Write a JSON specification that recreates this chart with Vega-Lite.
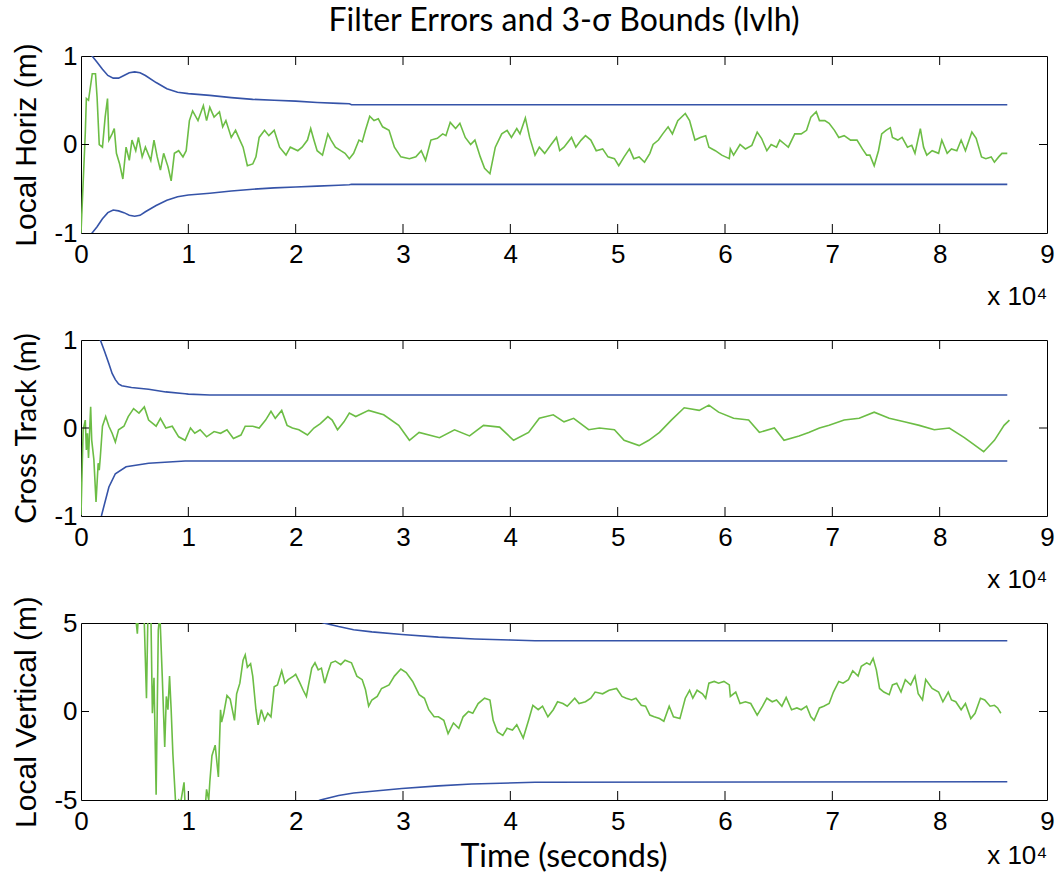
{
  "$schema": "https://vega.github.io/schema/vega-lite/v6.json",
  "padding": {"left": 11, "top": 4, "right": 2, "bottom": 2},
  "bounds": "flush",
  "spacing": 107,
  "config": {
    "view": {"stroke": "#000", "strokeWidth": 1},
    "axis": {"grid": false, "domain": false, "ticks": false, "tickSize": 0, "labelFont": "Liberation Sans", "labelFontSize": 26, "labelColor": "#000", "titleColor": "#000", "titleFontWeight": "normal", "titleFont": "Liberation Sans", "titleFontSize": 30, "labelFlush": false, "labelOverlap": false}
  },
  "datasets": {
    "xticks": [{"t": 10000}, {"t": 20000}, {"t": 30000}, {"t": 40000}, {"t": 50000}, {"t": 60000}, {"t": 70000}, {"t": 80000}],
    "yticks": [{"v": 0}],
    "h_bnd": [
      {"t": 900, "v": 1.02, "s": "u"}, {"t": 1500, "v": 0.93, "s": "u"}, {"t": 2000, "v": 0.85, "s": "u"}, {"t": 2500, "v": 0.78, "s": "u"}, {"t": 3000, "v": 0.75, "s": "u"}, {"t": 3500, "v": 0.75, "s": "u"}, {"t": 4000, "v": 0.78, "s": "u"}, {"t": 4500, "v": 0.81, "s": "u"}, {"t": 5000, "v": 0.82, "s": "u"}, {"t": 5500, "v": 0.81, "s": "u"}, {"t": 6000, "v": 0.78, "s": "u"}, {"t": 7000, "v": 0.7, "s": "u"}, {"t": 8000, "v": 0.63, "s": "u"}, {"t": 9000, "v": 0.59, "s": "u"}, {"t": 10000, "v": 0.575, "s": "u"}, {"t": 12000, "v": 0.555, "s": "u"}, {"t": 14000, "v": 0.53, "s": "u"}, {"t": 16000, "v": 0.51, "s": "u"}, {"t": 18000, "v": 0.5, "s": "u"}, {"t": 20000, "v": 0.49, "s": "u"}, {"t": 22000, "v": 0.475, "s": "u"}, {"t": 24000, "v": 0.465, "s": "u"}, {"t": 25000, "v": 0.46, "s": "u"}, {"t": 25200, "v": 0.45, "s": "u"}, {"t": 86300, "v": 0.45, "s": "u"},
      {"t": 900, "v": -1.02, "s": "l"}, {"t": 1500, "v": -0.93, "s": "l"}, {"t": 2000, "v": -0.84, "s": "l"}, {"t": 2500, "v": -0.77, "s": "l"}, {"t": 3000, "v": -0.74, "s": "l"}, {"t": 3500, "v": -0.75, "s": "l"}, {"t": 4000, "v": -0.77, "s": "l"}, {"t": 4500, "v": -0.8, "s": "l"}, {"t": 5000, "v": -0.81, "s": "l"}, {"t": 5500, "v": -0.8, "s": "l"}, {"t": 6000, "v": -0.76, "s": "l"}, {"t": 7000, "v": -0.69, "s": "l"}, {"t": 8000, "v": -0.63, "s": "l"}, {"t": 9000, "v": -0.59, "s": "l"}, {"t": 10000, "v": -0.57, "s": "l"}, {"t": 12000, "v": -0.55, "s": "l"}, {"t": 14000, "v": -0.525, "s": "l"}, {"t": 16000, "v": -0.505, "s": "l"}, {"t": 18000, "v": -0.49, "s": "l"}, {"t": 20000, "v": -0.48, "s": "l"}, {"t": 22000, "v": -0.47, "s": "l"}, {"t": 24000, "v": -0.46, "s": "l"}, {"t": 25000, "v": -0.455, "s": "l"}, {"t": 25200, "v": -0.45, "s": "l"}, {"t": 86300, "v": -0.45, "s": "l"}
    ],
    "h_err": [
      {"t": 0, "v": -1.0}, {"t": 400, "v": 0.13}, {"t": 500, "v": 0.52}, {"t": 700, "v": 0.5}, {"t": 1050, "v": 0.8}, {"t": 1350, "v": 0.8}, {"t": 1500, "v": 0.53}, {"t": 1700, "v": 0.0}, {"t": 2000, "v": -0.03}, {"t": 2250, "v": 0.31}, {"t": 2470, "v": 0.52}, {"t": 2600, "v": 0.05}, {"t": 2900, "v": 0.12}, {"t": 3100, "v": 0.18}, {"t": 3300, "v": -0.1}, {"t": 3600, "v": -0.22}, {"t": 3900, "v": -0.39}, {"t": 4200, "v": -0.03}, {"t": 4500, "v": -0.18}, {"t": 4750, "v": 0.05}, {"t": 5100, "v": -0.07}, {"t": 5350, "v": 0.08}, {"t": 5700, "v": -0.14}, {"t": 6000, "v": -0.03}, {"t": 6500, "v": -0.18}, {"t": 6800, "v": 0.05}, {"t": 7100, "v": -0.14}, {"t": 7400, "v": -0.29}, {"t": 7700, "v": -0.1}, {"t": 8100, "v": -0.25}, {"t": 8400, "v": -0.41}, {"t": 8700, "v": -0.1}, {"t": 9100, "v": -0.07}, {"t": 9500, "v": -0.14}, {"t": 9800, "v": -0.07}, {"t": 10100, "v": 0.27}, {"t": 10400, "v": 0.38}, {"t": 10900, "v": 0.27}, {"t": 11400, "v": 0.44}, {"t": 11700, "v": 0.27}, {"t": 12000, "v": 0.42}, {"t": 12400, "v": 0.31}, {"t": 12900, "v": 0.37}, {"t": 13200, "v": 0.2}, {"t": 13500, "v": 0.27}, {"t": 14000, "v": 0.08}, {"t": 14400, "v": 0.16}, {"t": 14800, "v": 0.05}, {"t": 15100, "v": -0.03}, {"t": 15500, "v": -0.24}, {"t": 16000, "v": -0.22}, {"t": 16300, "v": -0.14}, {"t": 16600, "v": 0.08}, {"t": 17100, "v": 0.16}, {"t": 17500, "v": 0.1}, {"t": 18000, "v": 0.16}, {"t": 18500, "v": -0.03}, {"t": 19100, "v": -0.12}, {"t": 19500, "v": -0.03}, {"t": 20200, "v": -0.07}, {"t": 20600, "v": -0.03}, {"t": 21100, "v": 0.05}, {"t": 21400, "v": 0.18}, {"t": 21700, "v": 0.05}, {"t": 22000, "v": -0.07}, {"t": 22500, "v": -0.12}, {"t": 23000, "v": 0.12}, {"t": 23300, "v": 0.05}, {"t": 23700, "v": -0.03}, {"t": 24200, "v": -0.07}, {"t": 24600, "v": -0.1}, {"t": 25000, "v": -0.16}, {"t": 25400, "v": -0.1}, {"t": 25900, "v": 0.05}, {"t": 26200, "v": 0.03}, {"t": 26500, "v": 0.16}, {"t": 26900, "v": 0.32}, {"t": 27300, "v": 0.27}, {"t": 27700, "v": 0.29}, {"t": 28100, "v": 0.2}, {"t": 28700, "v": 0.16}, {"t": 29200, "v": -0.03}, {"t": 29800, "v": -0.14}, {"t": 30600, "v": -0.16}, {"t": 31200, "v": -0.14}, {"t": 31700, "v": -0.07}, {"t": 32100, "v": -0.18}, {"t": 32600, "v": 0.05}, {"t": 33200, "v": 0.07}, {"t": 33700, "v": 0.12}, {"t": 34000, "v": 0.1}, {"t": 34400, "v": 0.25}, {"t": 34900, "v": 0.18}, {"t": 35300, "v": 0.24}, {"t": 35800, "v": 0.08}, {"t": 36300, "v": 0.0}, {"t": 36700, "v": 0.05}, {"t": 37200, "v": -0.14}, {"t": 37600, "v": -0.27}, {"t": 38100, "v": -0.33}, {"t": 38600, "v": -0.03}, {"t": 39200, "v": 0.12}, {"t": 39700, "v": 0.16}, {"t": 40100, "v": 0.08}, {"t": 40600, "v": 0.18}, {"t": 40900, "v": 0.12}, {"t": 41400, "v": 0.3}, {"t": 41800, "v": 0.08}, {"t": 42300, "v": -0.12}, {"t": 42700, "v": -0.03}, {"t": 43200, "v": -0.1}, {"t": 43800, "v": 0.0}, {"t": 44300, "v": 0.08}, {"t": 44600, "v": -0.07}, {"t": 45000, "v": -0.03}, {"t": 45700, "v": 0.08}, {"t": 46100, "v": -0.03}, {"t": 46600, "v": 0.05}, {"t": 47000, "v": 0.1}, {"t": 47500, "v": 0.05}, {"t": 48000, "v": -0.07}, {"t": 48600, "v": -0.05}, {"t": 49100, "v": -0.14}, {"t": 49700, "v": -0.16}, {"t": 50100, "v": -0.24}, {"t": 50600, "v": -0.14}, {"t": 51100, "v": -0.05}, {"t": 51500, "v": -0.16}, {"t": 52000, "v": -0.14}, {"t": 52500, "v": -0.2}, {"t": 53000, "v": -0.1}, {"t": 53300, "v": 0.0}, {"t": 53800, "v": 0.05}, {"t": 54200, "v": 0.12}, {"t": 54700, "v": 0.2}, {"t": 55100, "v": 0.12}, {"t": 55600, "v": 0.27}, {"t": 56300, "v": 0.35}, {"t": 56700, "v": 0.27}, {"t": 57200, "v": 0.05}, {"t": 57700, "v": 0.08}, {"t": 58200, "v": 0.1}, {"t": 58500, "v": -0.03}, {"t": 59100, "v": -0.07}, {"t": 59700, "v": -0.12}, {"t": 60400, "v": -0.16}, {"t": 60500, "v": -0.05}, {"t": 60800, "v": -0.12}, {"t": 61400, "v": 0.0}, {"t": 61900, "v": -0.05}, {"t": 62500, "v": -0.01}, {"t": 63000, "v": 0.14}, {"t": 63400, "v": 0.07}, {"t": 63900, "v": -0.07}, {"t": 64300, "v": 0.0}, {"t": 64800, "v": -0.03}, {"t": 65100, "v": 0.05}, {"t": 65600, "v": 0.0}, {"t": 65900, "v": -0.03}, {"t": 66500, "v": 0.12}, {"t": 67100, "v": 0.12}, {"t": 67600, "v": 0.16}, {"t": 68000, "v": 0.31}, {"t": 68500, "v": 0.37}, {"t": 68800, "v": 0.27}, {"t": 69300, "v": 0.27}, {"t": 69700, "v": 0.24}, {"t": 70200, "v": 0.16}, {"t": 70600, "v": 0.08}, {"t": 71100, "v": 0.1}, {"t": 71700, "v": 0.05}, {"t": 72300, "v": 0.05}, {"t": 72800, "v": -0.05}, {"t": 73200, "v": -0.12}, {"t": 73500, "v": -0.12}, {"t": 73900, "v": -0.24}, {"t": 74300, "v": -0.07}, {"t": 74600, "v": 0.12}, {"t": 75000, "v": 0.16}, {"t": 75400, "v": 0.19}, {"t": 75600, "v": 0.08}, {"t": 76100, "v": 0.05}, {"t": 76500, "v": 0.08}, {"t": 77000, "v": -0.03}, {"t": 77400, "v": -0.01}, {"t": 77700, "v": -0.1}, {"t": 78200, "v": 0.18}, {"t": 78500, "v": -0.03}, {"t": 78800, "v": -0.12}, {"t": 79300, "v": -0.07}, {"t": 79900, "v": -0.1}, {"t": 80200, "v": 0.05}, {"t": 80700, "v": -0.1}, {"t": 81100, "v": -0.05}, {"t": 81600, "v": -0.07}, {"t": 82000, "v": 0.05}, {"t": 82400, "v": -0.07}, {"t": 83000, "v": 0.14}, {"t": 83400, "v": 0.07}, {"t": 83900, "v": -0.14}, {"t": 84300, "v": -0.16}, {"t": 84800, "v": -0.14}, {"t": 85100, "v": -0.2}, {"t": 85500, "v": -0.14}, {"t": 85800, "v": -0.1}, {"t": 86300, "v": -0.1}
    ],
    "c_bnd": [
      {"t": 1700, "v": 1.03, "s": "u"}, {"t": 1800, "v": 1.0, "s": "u"}, {"t": 2200, "v": 0.87, "s": "u"}, {"t": 2600, "v": 0.73, "s": "u"}, {"t": 2900, "v": 0.62, "s": "u"}, {"t": 3200, "v": 0.55, "s": "u"}, {"t": 3500, "v": 0.5, "s": "u"}, {"t": 3800, "v": 0.48, "s": "u"}, {"t": 4700, "v": 0.46, "s": "u"}, {"t": 6300, "v": 0.44, "s": "u"}, {"t": 7900, "v": 0.41, "s": "u"}, {"t": 9700, "v": 0.39, "s": "u"}, {"t": 10000, "v": 0.385, "s": "u"}, {"t": 12000, "v": 0.375, "s": "u"}, {"t": 86300, "v": 0.375, "s": "u"},
      {"t": 1800, "v": -1.03, "s": "l"}, {"t": 1900, "v": -1.0, "s": "l"}, {"t": 2600, "v": -0.67, "s": "l"}, {"t": 3200, "v": -0.52, "s": "l"}, {"t": 4200, "v": -0.44, "s": "l"}, {"t": 6300, "v": -0.4, "s": "l"}, {"t": 9700, "v": -0.375, "s": "l"}, {"t": 12000, "v": -0.375, "s": "l"}, {"t": 86300, "v": -0.375, "s": "l"}
    ],
    "c_err": [
      {"t": 0, "v": -0.99}, {"t": 200, "v": -0.02}, {"t": 400, "v": 0.09}, {"t": 500, "v": -0.25}, {"t": 600, "v": -0.06}, {"t": 700, "v": -0.34}, {"t": 900, "v": 0.24}, {"t": 1000, "v": -0.14}, {"t": 1200, "v": -0.36}, {"t": 1400, "v": -0.84}, {"t": 1600, "v": -0.4}, {"t": 1700, "v": -0.48}, {"t": 1800, "v": -0.33}, {"t": 2000, "v": 0.02}, {"t": 2300, "v": 0.13}, {"t": 2600, "v": 0.02}, {"t": 2900, "v": -0.06}, {"t": 3200, "v": -0.16}, {"t": 3500, "v": -0.02}, {"t": 4000, "v": 0.02}, {"t": 4400, "v": 0.13}, {"t": 4900, "v": 0.22}, {"t": 5400, "v": 0.17}, {"t": 5900, "v": 0.24}, {"t": 6300, "v": 0.09}, {"t": 7000, "v": 0.02}, {"t": 7400, "v": 0.11}, {"t": 7900, "v": 0.0}, {"t": 8500, "v": 0.02}, {"t": 9100, "v": -0.1}, {"t": 9700, "v": -0.14}, {"t": 10200, "v": 0.0}, {"t": 10600, "v": -0.06}, {"t": 11100, "v": -0.02}, {"t": 11700, "v": -0.1}, {"t": 12400, "v": -0.04}, {"t": 13000, "v": -0.06}, {"t": 13600, "v": -0.02}, {"t": 14200, "v": -0.12}, {"t": 14900, "v": -0.08}, {"t": 15300, "v": 0.02}, {"t": 16000, "v": 0.02}, {"t": 16600, "v": 0.0}, {"t": 17200, "v": 0.09}, {"t": 17700, "v": 0.19}, {"t": 18100, "v": 0.11}, {"t": 18700, "v": 0.2}, {"t": 19200, "v": 0.03}, {"t": 19700, "v": 0.0}, {"t": 20300, "v": -0.02}, {"t": 21100, "v": -0.08}, {"t": 21700, "v": 0.0}, {"t": 22300, "v": 0.05}, {"t": 23000, "v": 0.13}, {"t": 23400, "v": 0.09}, {"t": 23900, "v": -0.02}, {"t": 24500, "v": 0.07}, {"t": 25000, "v": 0.17}, {"t": 25600, "v": 0.13}, {"t": 26800, "v": 0.2}, {"t": 28200, "v": 0.15}, {"t": 29600, "v": 0.03}, {"t": 30600, "v": -0.14}, {"t": 31500, "v": -0.05}, {"t": 33400, "v": -0.11}, {"t": 34800, "v": -0.02}, {"t": 36200, "v": -0.09}, {"t": 37500, "v": 0.03}, {"t": 39000, "v": 0.01}, {"t": 40300, "v": -0.14}, {"t": 41700, "v": -0.05}, {"t": 42700, "v": 0.11}, {"t": 44000, "v": 0.15}, {"t": 45000, "v": 0.07}, {"t": 45900, "v": 0.11}, {"t": 47300, "v": -0.02}, {"t": 48300, "v": 0.0}, {"t": 49700, "v": -0.02}, {"t": 50600, "v": -0.14}, {"t": 52000, "v": -0.2}, {"t": 52900, "v": -0.14}, {"t": 53900, "v": -0.05}, {"t": 55000, "v": 0.09}, {"t": 56200, "v": 0.23}, {"t": 57600, "v": 0.2}, {"t": 58500, "v": 0.26}, {"t": 59400, "v": 0.18}, {"t": 60800, "v": 0.11}, {"t": 62200, "v": 0.09}, {"t": 63200, "v": -0.05}, {"t": 64600, "v": 0.0}, {"t": 65500, "v": -0.14}, {"t": 66900, "v": -0.09}, {"t": 67800, "v": -0.05}, {"t": 68800, "v": 0.0}, {"t": 69700, "v": 0.03}, {"t": 71100, "v": 0.09}, {"t": 72500, "v": 0.11}, {"t": 73900, "v": 0.18}, {"t": 75300, "v": 0.11}, {"t": 76700, "v": 0.07}, {"t": 78100, "v": 0.03}, {"t": 79500, "v": -0.02}, {"t": 80900, "v": 0.0}, {"t": 82300, "v": -0.11}, {"t": 83200, "v": -0.19}, {"t": 84100, "v": -0.27}, {"t": 85100, "v": -0.14}, {"t": 86000, "v": 0.03}, {"t": 86500, "v": 0.09}
    ],
    "v_bnd": [
      {"t": 20000, "v": 5.6, "s": "u"}, {"t": 22600, "v": 5.0, "s": "u"}, {"t": 24000, "v": 4.8, "s": "u"}, {"t": 25400, "v": 4.62, "s": "u"}, {"t": 27100, "v": 4.5, "s": "u"}, {"t": 29900, "v": 4.35, "s": "u"}, {"t": 33300, "v": 4.2, "s": "u"}, {"t": 36700, "v": 4.1, "s": "u"}, {"t": 40000, "v": 4.04, "s": "u"}, {"t": 42300, "v": 4.0, "s": "u"}, {"t": 86300, "v": 4.0, "s": "u"},
      {"t": 20000, "v": -5.6, "s": "l"}, {"t": 22300, "v": -5.0, "s": "l"}, {"t": 24000, "v": -4.75, "s": "l"}, {"t": 25400, "v": -4.6, "s": "l"}, {"t": 29900, "v": -4.35, "s": "l"}, {"t": 33300, "v": -4.2, "s": "l"}, {"t": 36400, "v": -4.1, "s": "l"}, {"t": 42300, "v": -4.0, "s": "l"}, {"t": 86300, "v": -3.97, "s": "l"}
    ],
    "v_err": [
      {"t": 5000, "v": 7}, {"t": 5150, "v": 5.0}, {"t": 5250, "v": 4.4}, {"t": 5400, "v": 6}, {"t": 5850, "v": 6}, {"t": 6100, "v": 0.75}, {"t": 6250, "v": 6}, {"t": 6500, "v": 6}, {"t": 6650, "v": -0.1}, {"t": 6800, "v": 1.9}, {"t": 7000, "v": -4.7}, {"t": 7200, "v": 4.6}, {"t": 7350, "v": 5.5}, {"t": 7570, "v": 2.0}, {"t": 7800, "v": -2.0}, {"t": 7950, "v": 0.85}, {"t": 8100, "v": 0.1}, {"t": 8250, "v": 2.0}, {"t": 8400, "v": 0.1}, {"t": 8560, "v": -2.4}, {"t": 8800, "v": -5.0}, {"t": 9000, "v": -5.5}, {"t": 9100, "v": -5.0}, {"t": 9300, "v": -5.1}, {"t": 9600, "v": -4.0}, {"t": 9700, "v": -5.3}, {"t": 11000, "v": -6}, {"t": 11600, "v": -5.2}, {"t": 11700, "v": -4.4}, {"t": 11900, "v": -5.0}, {"t": 12000, "v": -4.0}, {"t": 12200, "v": -2.5}, {"t": 12500, "v": -1.9}, {"t": 12700, "v": -3.1}, {"t": 12800, "v": -3.7}, {"t": 13000, "v": 0.1}, {"t": 13100, "v": -0.6}, {"t": 13300, "v": -0.1}, {"t": 13600, "v": 0.9}, {"t": 13900, "v": 0.7}, {"t": 14300, "v": -0.5}, {"t": 14500, "v": 1.0}, {"t": 14800, "v": 1.6}, {"t": 15100, "v": 2.9}, {"t": 15300, "v": 3.2}, {"t": 15500, "v": 2.5}, {"t": 15800, "v": 2.7}, {"t": 16000, "v": 2.0}, {"t": 16300, "v": 0.1}, {"t": 16500, "v": -0.75}, {"t": 16800, "v": 0.1}, {"t": 17100, "v": -0.5}, {"t": 17400, "v": -0.1}, {"t": 17700, "v": -0.3}, {"t": 18000, "v": 1.4}, {"t": 18300, "v": 1.5}, {"t": 18700, "v": 2.3}, {"t": 19000, "v": 1.6}, {"t": 19300, "v": 1.8}, {"t": 19800, "v": 2.0}, {"t": 20000, "v": 2.1}, {"t": 20400, "v": 1.6}, {"t": 20700, "v": 1.2}, {"t": 21000, "v": 0.85}, {"t": 21200, "v": 1.5}, {"t": 21500, "v": 2.45}, {"t": 21800, "v": 2.75}, {"t": 22100, "v": 2.35}, {"t": 22400, "v": 2.45}, {"t": 22700, "v": 1.6}, {"t": 23000, "v": 2.2}, {"t": 23300, "v": 2.75}, {"t": 23700, "v": 2.85}, {"t": 24200, "v": 2.65}, {"t": 24600, "v": 2.9}, {"t": 25200, "v": 2.75}, {"t": 25700, "v": 2.0}, {"t": 26200, "v": 1.8}, {"t": 26500, "v": 1.25}, {"t": 26800, "v": 0.3}, {"t": 27100, "v": 0.65}, {"t": 27600, "v": 0.85}, {"t": 28000, "v": 1.3}, {"t": 28700, "v": 1.5}, {"t": 29200, "v": 2.0}, {"t": 29800, "v": 2.4}, {"t": 30300, "v": 2.2}, {"t": 30900, "v": 1.7}, {"t": 31500, "v": 0.95}, {"t": 32000, "v": 0.75}, {"t": 32400, "v": 0.1}, {"t": 32900, "v": -0.3}, {"t": 33300, "v": -0.3}, {"t": 33800, "v": -0.5}, {"t": 34200, "v": -1.25}, {"t": 34700, "v": -0.65}, {"t": 35200, "v": -0.95}, {"t": 35600, "v": -0.3}, {"t": 36100, "v": 0.0}, {"t": 36500, "v": -0.1}, {"t": 37000, "v": 0.45}, {"t": 37600, "v": 0.75}, {"t": 38100, "v": 0.65}, {"t": 38400, "v": -0.5}, {"t": 38800, "v": -1.15}, {"t": 39300, "v": -1.35}, {"t": 39700, "v": -0.95}, {"t": 40200, "v": -1.05}, {"t": 40600, "v": -0.75}, {"t": 41200, "v": -1.5}, {"t": 41700, "v": -0.5}, {"t": 42100, "v": 0.35}, {"t": 42600, "v": 0.1}, {"t": 43000, "v": 0.3}, {"t": 43500, "v": -0.3}, {"t": 44000, "v": 0.1}, {"t": 44400, "v": 0.55}, {"t": 44900, "v": 0.45}, {"t": 45300, "v": 0.3}, {"t": 46000, "v": 0.75}, {"t": 46400, "v": 0.45}, {"t": 47000, "v": 0.55}, {"t": 47500, "v": 0.75}, {"t": 47900, "v": 1.1}, {"t": 48600, "v": 1.0}, {"t": 49200, "v": 1.2}, {"t": 49900, "v": 1.3}, {"t": 50400, "v": 0.85}, {"t": 50800, "v": 0.75}, {"t": 51300, "v": 0.65}, {"t": 51700, "v": 0.75}, {"t": 52200, "v": 0.35}, {"t": 52600, "v": 0.3}, {"t": 53000, "v": -0.2}, {"t": 53400, "v": -0.3}, {"t": 53900, "v": -0.4}, {"t": 54300, "v": -0.55}, {"t": 54800, "v": 0.3}, {"t": 55200, "v": -0.3}, {"t": 55800, "v": -0.4}, {"t": 56300, "v": 0.75}, {"t": 56700, "v": 1.2}, {"t": 57000, "v": 0.75}, {"t": 57400, "v": 1.2}, {"t": 57900, "v": 1.0}, {"t": 58200, "v": 0.75}, {"t": 58500, "v": 1.6}, {"t": 59000, "v": 1.7}, {"t": 59400, "v": 1.6}, {"t": 59900, "v": 1.7}, {"t": 60400, "v": 1.5}, {"t": 60500, "v": 0.85}, {"t": 61000, "v": 1.1}, {"t": 61400, "v": 0.45}, {"t": 61900, "v": 0.55}, {"t": 62400, "v": 0.45}, {"t": 63000, "v": -0.2}, {"t": 63500, "v": 0.3}, {"t": 63900, "v": 0.75}, {"t": 64400, "v": 0.55}, {"t": 64800, "v": 0.65}, {"t": 65300, "v": 0.3}, {"t": 65700, "v": 0.8}, {"t": 66200, "v": 0.1}, {"t": 66700, "v": 0.2}, {"t": 67100, "v": 0.1}, {"t": 67600, "v": 0.3}, {"t": 68000, "v": -0.3}, {"t": 68300, "v": -0.5}, {"t": 68800, "v": 0.2}, {"t": 69200, "v": 0.3}, {"t": 69700, "v": 0.45}, {"t": 70100, "v": 1.1}, {"t": 70600, "v": 1.7}, {"t": 71000, "v": 1.6}, {"t": 71500, "v": 1.8}, {"t": 71900, "v": 2.3}, {"t": 72400, "v": 2.0}, {"t": 72700, "v": 2.55}, {"t": 73200, "v": 2.75}, {"t": 73500, "v": 2.65}, {"t": 73800, "v": 3.0}, {"t": 74100, "v": 2.35}, {"t": 74400, "v": 1.3}, {"t": 74800, "v": 1.1}, {"t": 75300, "v": 0.95}, {"t": 75600, "v": 1.5}, {"t": 76000, "v": 1.6}, {"t": 76400, "v": 1.1}, {"t": 76800, "v": 1.8}, {"t": 77300, "v": 1.5}, {"t": 77700, "v": 2.0}, {"t": 78000, "v": 1.0}, {"t": 78400, "v": 0.65}, {"t": 78700, "v": 1.8}, {"t": 79300, "v": 1.3}, {"t": 79900, "v": 1.1}, {"t": 80300, "v": 0.55}, {"t": 80800, "v": 1.1}, {"t": 81100, "v": 0.65}, {"t": 81500, "v": 0.55}, {"t": 82000, "v": 0.1}, {"t": 82400, "v": 0.45}, {"t": 82900, "v": -0.4}, {"t": 83300, "v": -0.1}, {"t": 83800, "v": 0.75}, {"t": 84200, "v": 0.65}, {"t": 84700, "v": 0.3}, {"t": 85100, "v": 0.35}, {"t": 85400, "v": 0.2}, {"t": 85700, "v": -0.1}
    ]
  },
  "vconcat": [
    {
      "width": 966, "height": 177,
      "title": {"text": "Filter Errors and 3-σ Bounds (lvlh)", "font": "Lato", "fontSize": 32, "fontWeight": "normal", "color": "#000", "frame": "group", "anchor": "middle", "offset": 5},
      "layer": [
        {
          "data": {"name": "h_bnd"},
          "mark": {"type": "line", "color": "#3553a8", "strokeWidth": 1.6, "clip": true},
          "encoding": {
            "x": {"field": "t", "type": "quantitative", "scale": {"domain": [0, 90000], "nice": false}, "axis": {"orient": "bottom", "values": [0, 10000, 20000, 30000, 40000, 50000, 60000, 70000, 80000, 90000], "labelExpr": "datum.value / 10000", "labelPadding": 8, "title": "x 10⁴", "titleAnchor": "end", "titleFontSize": 26, "titlePadding": 16}},
            "y": {"field": "v", "type": "quantitative", "scale": {"domain": [-1, 1], "nice": false}, "axis": {"orient": "left", "values": [-1, 0, 1], "labelExpr": "datum.value", "labelPadding": 4, "title": "Local Horiz (m)", "titlePadding": 12}},
            "detail": {"field": "s"}
          }
        },
        {
          "data": {"name": "h_err"},
          "mark": {"type": "line", "color": "#6cbd45", "strokeWidth": 1.6, "clip": true},
          "encoding": {
            "x": {"field": "t", "type": "quantitative", "scale": {"domain": [0, 90000], "nice": false}, "axis": {"orient": "bottom", "values": [0, 10000, 20000, 30000, 40000, 50000, 60000, 70000, 80000, 90000], "labelExpr": "datum.value / 10000", "labelPadding": 8, "title": "x 10⁴", "titleAnchor": "end", "titleFontSize": 26, "titlePadding": 16}},
            "y": {"field": "v", "type": "quantitative", "scale": {"domain": [-1, 1], "nice": false}, "axis": {"orient": "left", "values": [-1, 0, 1], "labelExpr": "datum.value", "labelPadding": 4, "title": "Local Horiz (m)", "titlePadding": 12}}
          }
        },
        {
          "data": {"name": "xticks"},
          "mark": {"type": "tick", "orient": "vertical", "color": "#000", "opacity": 1, "thickness": 1, "size": 18, "clip": true},
          "encoding": {
            "x": {"field": "t", "type": "quantitative", "scale": {"domain": [0, 90000], "nice": false}, "axis": {"orient": "bottom", "values": [0, 10000, 20000, 30000, 40000, 50000, 60000, 70000, 80000, 90000], "labelExpr": "datum.value / 10000", "labelPadding": 8, "title": "x 10⁴", "titleAnchor": "end", "titleFontSize": 26, "titlePadding": 16}},
            "y": {"datum": -1}
          }
        },
        {
          "data": {"name": "xticks"},
          "mark": {"type": "tick", "orient": "vertical", "color": "#000", "opacity": 1, "thickness": 1, "size": 18, "clip": true},
          "encoding": {
            "x": {"field": "t", "type": "quantitative", "scale": {"domain": [0, 90000], "nice": false}, "axis": {"orient": "bottom", "values": [0, 10000, 20000, 30000, 40000, 50000, 60000, 70000, 80000, 90000], "labelExpr": "datum.value / 10000", "labelPadding": 8, "title": "x 10⁴", "titleAnchor": "end", "titleFontSize": 26, "titlePadding": 16}},
            "y": {"datum": 1}
          }
        },
        {
          "data": {"name": "yticks"},
          "mark": {"type": "tick", "orient": "horizontal", "color": "#000", "opacity": 1, "thickness": 1, "size": 16, "clip": true},
          "encoding": {
            "y": {"field": "v", "type": "quantitative", "scale": {"domain": [-1, 1], "nice": false}, "axis": {"orient": "left", "values": [-1, 0, 1], "labelExpr": "datum.value", "labelPadding": 4, "title": "Local Horiz (m)", "titlePadding": 12}},
            "x": {"datum": 0}
          }
        },
        {
          "data": {"name": "yticks"},
          "mark": {"type": "tick", "orient": "horizontal", "color": "#000", "opacity": 1, "thickness": 1, "size": 16, "clip": true},
          "encoding": {
            "y": {"field": "v", "type": "quantitative", "scale": {"domain": [-1, 1], "nice": false}, "axis": {"orient": "left", "values": [-1, 0, 1], "labelExpr": "datum.value", "labelPadding": 4, "title": "Local Horiz (m)", "titlePadding": 12}},
            "x": {"datum": 90000}
          }
        }
      ]
    },
    {
      "width": 966, "height": 176,
      "layer": [
        {
          "data": {"name": "c_bnd"},
          "mark": {"type": "line", "color": "#3553a8", "strokeWidth": 1.6, "clip": true},
          "encoding": {
            "x": {"field": "t", "type": "quantitative", "scale": {"domain": [0, 90000], "nice": false}, "axis": {"orient": "bottom", "values": [0, 10000, 20000, 30000, 40000, 50000, 60000, 70000, 80000, 90000], "labelExpr": "datum.value / 10000", "labelPadding": 8, "title": "x 10⁴", "titleAnchor": "end", "titleFontSize": 26, "titlePadding": 16}},
            "y": {"field": "v", "type": "quantitative", "scale": {"domain": [-1, 1], "nice": false}, "axis": {"orient": "left", "values": [-1, 0, 1], "labelExpr": "datum.value", "labelPadding": 4, "title": "Cross Track (m)", "titleFont": "Lato", "titleFontSize": 29, "titlePadding": 12}},
            "detail": {"field": "s"}
          }
        },
        {
          "data": {"name": "c_err"},
          "mark": {"type": "line", "color": "#6cbd45", "strokeWidth": 1.6, "clip": true},
          "encoding": {
            "x": {"field": "t", "type": "quantitative", "scale": {"domain": [0, 90000], "nice": false}, "axis": {"orient": "bottom", "values": [0, 10000, 20000, 30000, 40000, 50000, 60000, 70000, 80000, 90000], "labelExpr": "datum.value / 10000", "labelPadding": 8, "title": "x 10⁴", "titleAnchor": "end", "titleFontSize": 26, "titlePadding": 16}},
            "y": {"field": "v", "type": "quantitative", "scale": {"domain": [-1, 1], "nice": false}, "axis": {"orient": "left", "values": [-1, 0, 1], "labelExpr": "datum.value", "labelPadding": 4, "title": "Cross Track (m)", "titleFont": "Lato", "titleFontSize": 29, "titlePadding": 12}}
          }
        },
        {
          "data": {"name": "xticks"},
          "mark": {"type": "tick", "orient": "vertical", "color": "#000", "opacity": 1, "thickness": 1, "size": 18, "clip": true},
          "encoding": {
            "x": {"field": "t", "type": "quantitative", "scale": {"domain": [0, 90000], "nice": false}, "axis": {"orient": "bottom", "values": [0, 10000, 20000, 30000, 40000, 50000, 60000, 70000, 80000, 90000], "labelExpr": "datum.value / 10000", "labelPadding": 8, "title": "x 10⁴", "titleAnchor": "end", "titleFontSize": 26, "titlePadding": 16}},
            "y": {"datum": -1}
          }
        },
        {
          "data": {"name": "xticks"},
          "mark": {"type": "tick", "orient": "vertical", "color": "#000", "opacity": 1, "thickness": 1, "size": 18, "clip": true},
          "encoding": {
            "x": {"field": "t", "type": "quantitative", "scale": {"domain": [0, 90000], "nice": false}, "axis": {"orient": "bottom", "values": [0, 10000, 20000, 30000, 40000, 50000, 60000, 70000, 80000, 90000], "labelExpr": "datum.value / 10000", "labelPadding": 8, "title": "x 10⁴", "titleAnchor": "end", "titleFontSize": 26, "titlePadding": 16}},
            "y": {"datum": 1}
          }
        },
        {
          "data": {"name": "yticks"},
          "mark": {"type": "tick", "orient": "horizontal", "color": "#000", "opacity": 1, "thickness": 1, "size": 16, "clip": true},
          "encoding": {
            "y": {"field": "v", "type": "quantitative", "scale": {"domain": [-1, 1], "nice": false}, "axis": {"orient": "left", "values": [-1, 0, 1], "labelExpr": "datum.value", "labelPadding": 4, "title": "Cross Track (m)", "titleFont": "Lato", "titleFontSize": 29, "titlePadding": 12}},
            "x": {"datum": 0}
          }
        },
        {
          "data": {"name": "yticks"},
          "mark": {"type": "tick", "orient": "horizontal", "color": "#000", "opacity": 1, "thickness": 1, "size": 16, "clip": true},
          "encoding": {
            "y": {"field": "v", "type": "quantitative", "scale": {"domain": [-1, 1], "nice": false}, "axis": {"orient": "left", "values": [-1, 0, 1], "labelExpr": "datum.value", "labelPadding": 4, "title": "Cross Track (m)", "titleFont": "Lato", "titleFontSize": 29, "titlePadding": 12}},
            "x": {"datum": 90000}
          }
        }
      ]
    },
    {
      "width": 966, "height": 177,
      "title": {"text": "Time (seconds)", "orient": "bottom", "font": "Lato", "fontSize": 32, "fontWeight": "normal", "color": "#000", "frame": "group", "anchor": "middle", "offset": -26},
      "layer": [
        {
          "data": {"name": "v_bnd"},
          "mark": {"type": "line", "color": "#3553a8", "strokeWidth": 1.6, "clip": true},
          "encoding": {
            "x": {"field": "t", "type": "quantitative", "scale": {"domain": [0, 90000], "nice": false}, "axis": {"orient": "bottom", "values": [0, 10000, 20000, 30000, 40000, 50000, 60000, 70000, 80000, 90000], "labelExpr": "datum.value / 10000", "labelPadding": 8, "title": "x 10⁴", "titleAnchor": "end", "titleFontSize": 26, "titlePadding": 8}},
            "y": {"field": "v", "type": "quantitative", "scale": {"domain": [-5, 5], "nice": false}, "axis": {"orient": "left", "values": [-5, 0, 5], "labelExpr": "datum.value", "labelPadding": 4, "title": "Local Vertical (m)", "titlePadding": 12}},
            "detail": {"field": "s"}
          }
        },
        {
          "data": {"name": "v_err"},
          "mark": {"type": "line", "color": "#6cbd45", "strokeWidth": 1.6, "clip": true},
          "encoding": {
            "x": {"field": "t", "type": "quantitative", "scale": {"domain": [0, 90000], "nice": false}, "axis": {"orient": "bottom", "values": [0, 10000, 20000, 30000, 40000, 50000, 60000, 70000, 80000, 90000], "labelExpr": "datum.value / 10000", "labelPadding": 8, "title": "x 10⁴", "titleAnchor": "end", "titleFontSize": 26, "titlePadding": 8}},
            "y": {"field": "v", "type": "quantitative", "scale": {"domain": [-5, 5], "nice": false}, "axis": {"orient": "left", "values": [-5, 0, 5], "labelExpr": "datum.value", "labelPadding": 4, "title": "Local Vertical (m)", "titlePadding": 12}}
          }
        },
        {
          "data": {"name": "xticks"},
          "mark": {"type": "tick", "orient": "vertical", "color": "#000", "opacity": 1, "thickness": 1, "size": 18, "clip": true},
          "encoding": {
            "x": {"field": "t", "type": "quantitative", "scale": {"domain": [0, 90000], "nice": false}, "axis": {"orient": "bottom", "values": [0, 10000, 20000, 30000, 40000, 50000, 60000, 70000, 80000, 90000], "labelExpr": "datum.value / 10000", "labelPadding": 8, "title": "x 10⁴", "titleAnchor": "end", "titleFontSize": 26, "titlePadding": 8}},
            "y": {"datum": -5}
          }
        },
        {
          "data": {"name": "xticks"},
          "mark": {"type": "tick", "orient": "vertical", "color": "#000", "opacity": 1, "thickness": 1, "size": 18, "clip": true},
          "encoding": {
            "x": {"field": "t", "type": "quantitative", "scale": {"domain": [0, 90000], "nice": false}, "axis": {"orient": "bottom", "values": [0, 10000, 20000, 30000, 40000, 50000, 60000, 70000, 80000, 90000], "labelExpr": "datum.value / 10000", "labelPadding": 8, "title": "x 10⁴", "titleAnchor": "end", "titleFontSize": 26, "titlePadding": 8}},
            "y": {"datum": 5}
          }
        },
        {
          "data": {"name": "yticks"},
          "mark": {"type": "tick", "orient": "horizontal", "color": "#000", "opacity": 1, "thickness": 1, "size": 16, "clip": true},
          "encoding": {
            "y": {"field": "v", "type": "quantitative", "scale": {"domain": [-5, 5], "nice": false}, "axis": {"orient": "left", "values": [-5, 0, 5], "labelExpr": "datum.value", "labelPadding": 4, "title": "Local Vertical (m)", "titlePadding": 12}},
            "x": {"datum": 0}
          }
        },
        {
          "data": {"name": "yticks"},
          "mark": {"type": "tick", "orient": "horizontal", "color": "#000", "opacity": 1, "thickness": 1, "size": 16, "clip": true},
          "encoding": {
            "y": {"field": "v", "type": "quantitative", "scale": {"domain": [-5, 5], "nice": false}, "axis": {"orient": "left", "values": [-5, 0, 5], "labelExpr": "datum.value", "labelPadding": 4, "title": "Local Vertical (m)", "titlePadding": 12}},
            "x": {"datum": 90000}
          }
        }
      ]
    }
  ]
}
